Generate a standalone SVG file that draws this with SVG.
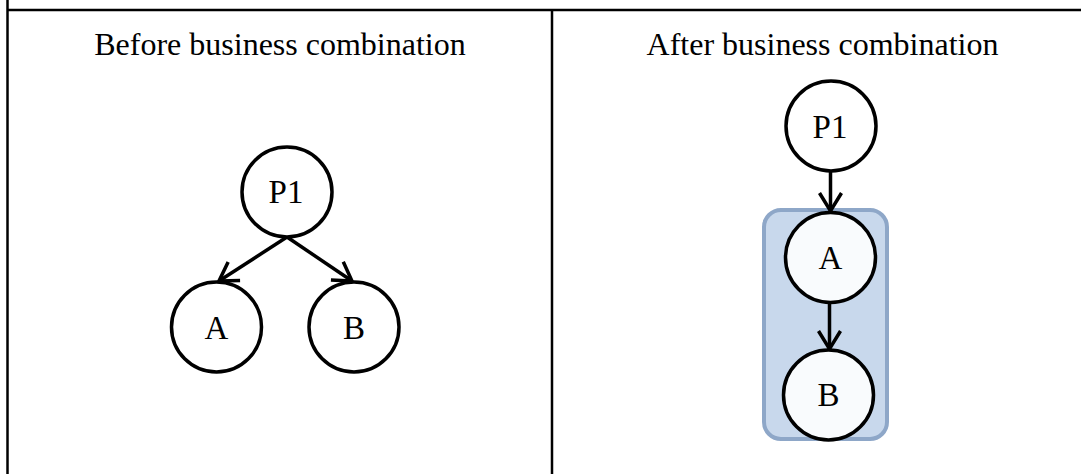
<svg xmlns="http://www.w3.org/2000/svg" width="1081" height="474" viewBox="0 0 1081 474">
  <style>
    .grid { stroke: #000; stroke-width: 2.5; fill: none; }
    .title { font-family: "Liberation Serif", "Times New Roman", serif; font-size: 32px; fill: #000; text-anchor: middle; }
    .node circle { stroke: #000; stroke-width: 3.5; }
    .label { font-family: "Liberation Serif", "Times New Roman", serif; font-size: 33px; fill: #000; text-anchor: middle; }
    .edge { stroke: #000; stroke-width: 3.5; fill: none; marker-end: url(#arrow); }
  </style>
  <defs>
    <marker id="arrow" markerUnits="userSpaceOnUse" markerWidth="30" markerHeight="30" viewBox="-22 -15 26 30" refX="0" refY="0" orient="auto">
      <path d="M-18,-11 L0,0 L-18,11" fill="none" stroke="#000" stroke-width="3.5" stroke-linecap="butt" stroke-linejoin="miter"/>
    </marker>
  </defs>
  <rect x="0" y="0" width="1081" height="474" fill="#fff"/>
  <g id="table">
    <line class="grid" x1="7.5" y1="0" x2="7.5" y2="474"/>
    <line class="grid" x1="7.5" y1="10" x2="1081" y2="10"/>
    <line class="grid" x1="552" y1="10" x2="552" y2="474"/>
    <text class="title" x="280" y="55">Before business combination</text>
    <text class="title" x="822.5" y="55">After business combination</text>
  </g>
  <g id="group-box">
    <rect x="764" y="210" width="123" height="229" rx="17" ry="17" fill="#c8d8ec" stroke="#8ea7c8" stroke-width="4"/>
  </g>
  <g id="connectors">
    <line class="edge" x1="287" y1="237" x2="219" y2="281"/>
    <line class="edge" x1="287" y1="237" x2="352" y2="281"/>
    <line class="edge" x1="830.5" y1="172" x2="830.5" y2="211"/>
    <line class="edge" x1="829.5" y1="303" x2="829.5" y2="349"/>
  </g>
  <g id="left-P1" class="node">
    <circle cx="287" cy="192" r="45" fill="#fff"/>
    <text class="label" x="286" y="203">P1</text>
  </g>
  <g id="left-A" class="node">
    <circle cx="216.5" cy="327" r="45" fill="#fff"/>
    <text class="label" x="216.5" y="339">A</text>
  </g>
  <g id="left-B" class="node">
    <circle cx="354" cy="327" r="45" fill="#fff"/>
    <text class="label" x="354" y="339">B</text>
  </g>
  <g id="right-P1" class="node">
    <circle cx="831" cy="126" r="45" fill="#fff"/>
    <text class="label" x="830" y="138">P1</text>
  </g>
  <g id="right-A" class="node">
    <circle cx="830.5" cy="257.5" r="45" fill="#f9fbfd"/>
    <text class="label" x="830.5" y="269">A</text>
  </g>
  <g id="right-B" class="node">
    <circle cx="828.5" cy="395" r="45" fill="#f9fbfd"/>
    <text class="label" x="828.5" y="406">B</text>
  </g>
</svg>
